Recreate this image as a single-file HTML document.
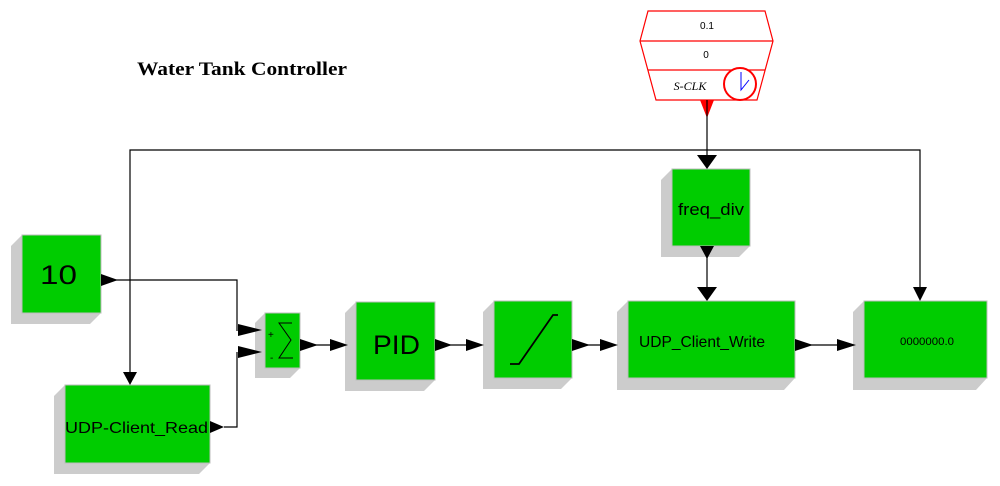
<!DOCTYPE html>
<html><head><meta charset="utf-8"><style>
html,body{margin:0;padding:0;background:#fff;width:1000px;height:486px;overflow:hidden}
svg{display:block}
text{font-family:"Liberation Sans",sans-serif;fill:#000}
</style></head><body>
<svg width="1000" height="486" viewBox="0 0 1000 486" xmlns="http://www.w3.org/2000/svg">
<text x="137" y="75" textLength="210" lengthAdjust="spacingAndGlyphs" style="font-family:'Liberation Serif',serif;font-size:19px;font-weight:bold">Water Tank Controller</text>

<!-- clock -->
<polygon points="648,11 765,11 773,41 757,100 656,100 640,41" fill="#fff" stroke="#f00" stroke-width="1.2"/>
<line x1="640" y1="41" x2="773" y2="41" stroke="#f00" stroke-width="1.2"/>
<line x1="648" y1="70" x2="765" y2="70" stroke="#f00" stroke-width="1.2"/>
<text x="707" y="29" font-size="10" text-anchor="middle">0.1</text>
<text x="706" y="58" font-size="10" text-anchor="middle">0</text>
<text x="690" y="90" font-size="12" text-anchor="middle" style="font-family:'Liberation Serif',serif;font-style:italic">S-CLK</text>
<circle cx="740" cy="84" r="16" fill="#fff" stroke="#f00" stroke-width="2"/>
<polyline points="741,72 741,90 749,80" fill="none" stroke="#00f" stroke-width="1"/>
<polygon points="700,100 714,100 707,118" fill="#f00"/>

<!-- wires -->
<g stroke="#000" stroke-width="1.2" fill="none">
<line x1="707" y1="100" x2="707" y2="158"/>
<polyline points="130,374 130,150 920,150 920,288"/>
<polyline points="101,280 237,280 237,331"/>
<polyline points="224,427 237,427 237,352"/>
<line x1="300" y1="345" x2="330" y2="345"/>
<line x1="435" y1="345" x2="470" y2="345"/>
<line x1="572" y1="345" x2="605" y2="345"/>
<line x1="707" y1="246" x2="707" y2="290"/>
<line x1="795" y1="345" x2="845" y2="345"/>
</g>

<!-- shadows & blocks -->
<g fill="#cccccc">
<polygon points="22,235 11,246 11,324 90,324 101,313 101,235"/>
<polygon points="65,385 54,396 54,474 199,474 210,463 210,385"/>
<polygon points="265,313 255,323 255,378 290,378 300,368 300,313"/>
<polygon points="356,302 345,313 345,391 424,391 435,380 435,302"/>
<polygon points="494,301 483,312 483,389 561,389 572,378 572,301"/>
<polygon points="628,301 617,312 617,390 784,390 795,378 795,301"/>
<polygon points="864,301 853,312 853,390 976,390 987,378 987,301"/>
<polygon points="672,169 661,180 661,257 739,257 750,246 750,169"/>
</g>
<g fill="#00cc00" stroke="#bdbdbd" stroke-width="1">
<rect x="22" y="235" width="79" height="78"/>
<rect x="65" y="385" width="145" height="78"/>
<rect x="265" y="313" width="35" height="55"/>
<rect x="356" y="302" width="79" height="78"/>
<rect x="494" y="301" width="78" height="77"/>
<rect x="628" y="301" width="167" height="77"/>
<rect x="864" y="301" width="123" height="77"/>
<rect x="672" y="169" width="78" height="77"/>
</g>
<text x="40" y="284" font-size="27" textLength="37" lengthAdjust="spacingAndGlyphs">10</text>
<text x="65" y="433" font-size="16" textLength="143" lengthAdjust="spacingAndGlyphs">UDP-Client_Read</text>
<text x="373" y="354" font-size="27" textLength="47" lengthAdjust="spacingAndGlyphs">PID</text>
<text x="639" y="347" font-size="16" textLength="126" lengthAdjust="spacingAndGlyphs">UDP_Client_Write</text>
<text x="900" y="345" font-size="11" textLength="54" lengthAdjust="spacingAndGlyphs">0000000.0</text>
<text x="678" y="215" font-size="17" textLength="66" lengthAdjust="spacingAndGlyphs">freq_div</text>
<text x="268" y="338" font-size="10">+</text>
<text x="270" y="361" font-size="10">-</text>
<polyline points="292,323 279,323 291,340 279,358 293,358" fill="none" stroke="#000" stroke-width="1"/>
<polyline points="510,364 519,364 553,315 558,315" fill="none" stroke="#000" stroke-width="1.8"/>

<!-- arrowheads -->
<g fill="#000">
<polygon points="101,274 118,280 101,286"/>
<polygon points="238,324 262,330 238,336"/>
<polygon points="238,346 262,352 238,358"/>
<polygon points="210,421 224,427 210,433"/>
<polygon points="300,339 318,345 300,351"/>
<polygon points="330,339 348,345 330,351"/>
<polygon points="435,339 452,345 435,351"/>
<polygon points="466,339 484,345 466,351"/>
<polygon points="572,339 590,345 572,351"/>
<polygon points="600,339 618,345 600,351"/>
<polygon points="795,339 813,345 795,351"/>
<polygon points="837,339 856,345 837,351"/>
<polygon points="123,372 137,372 130,385"/>
<polygon points="913,287 927,287 920,301"/>
<polygon points="697,155 717,155 707,169"/>
<polygon points="700,246 714,246 707,259"/>
<polygon points="697,287 717,287 707,301"/>
</g>
</svg>
</body></html>
